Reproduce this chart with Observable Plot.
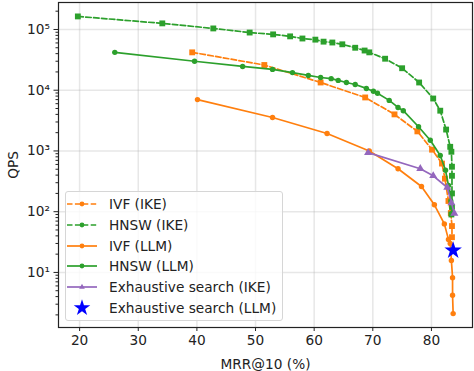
<!DOCTYPE html>
<html><head><meta charset="utf-8">
<script src="https://cdn.jsdelivr.net/npm/d3@7"></script>
<script src="https://cdn.jsdelivr.net/npm/@observablehq/plot@0.6"></script>
<style>
body{margin:0;background:#fff;font-family:"DejaVu Sans",sans-serif;}
#wrap{position:relative;width:474px;height:371px;}
#legend{position:absolute;left:65px;top:191px;width:218px;height:130px;border:1px solid #d6d6d6;border-radius:3px;background:rgba(255,255,255,0.8);box-sizing:border-box;}
.row{position:absolute;left:0;height:20px;display:flex;align-items:center;font-size:13.7px;color:#222;white-space:nowrap;}
.row svg{margin-right:10px;}
</style></head><body><div id="wrap"></div>
<script>
// ---- data ----
const ivfIkeX = [39.2, 51.5, 61.1, 68.7, 73.7, 77.6, 80.1, 81.8, 82.3, 82.9, 83.3, 83.5, 83.5];
const ivfIkeQ = [42000, 26000, 13400, 7600, 4000, 2100, 1050, 620, 350, 150, 95, 58, 38];

const hnswIkeX = [19.7, 34.1, 42.8, 49.0, 53.0, 55.9, 58.0, 60.2, 61.6, 63.1, 64.8, 67.0, 68.6, 69.4, 72.1, 75.0, 77.9, 80.3, 81.5, 82.5, 83.2, 83.4, 83.5, 83.5, 83.5, 83.5, 83.4];
const hnswIkeQ = [164000, 126000, 104000, 89000, 83000, 77000, 71000, 68000, 63000, 61000, 57000, 50000, 45000, 42000, 33000, 23000, 13400, 7300, 4600, 2250, 1170, 970, 550, 390, 200, 120, 90];

const ivfLlmX = [40.1, 52.9, 62.2, 69.4, 74.3, 78.3, 80.5, 82.2, 82.9, 83.2, 83.4, 83.6, 83.6, 83.7];
const ivfLlmQ = [7000, 3550, 1940, 1000, 510, 260, 130, 63, 35, 30, 15.7, 8.2, 4.2, 2.1];

const hnswLlmX = [26.0, 39.6, 47.8, 52.9, 56.3, 59.0, 61.1, 62.9, 64.1, 65.5, 67.0, 68.9, 70.1, 70.8, 72.8, 74.3, 75.2, 77.8, 79.8, 81.5, 82.4, 82.9, 83.3, 83.6];
const hnswLlmQ = [42000, 30000, 24600, 22000, 19500, 17500, 16200, 15500, 14500, 13400, 12400, 10700, 9600, 8900, 6800, 5200, 4600, 2500, 1500, 840, 480, 270, 150, 95];

const exhIkeX = [69.2, 78.1, 80.3, 82.7, 83.4, 83.9];
const exhIkeQ = [940, 510, 390, 250, 140, 94];

const exhLlmX = [83.7];
const exhLlmQ = [23];

const seriesNames = ["IVF (IKE)", "HNSW (IKE)", "IVF (LLM)", "HNSW (LLM)", "Exhaustive search (IKE)", "Exhaustive search (LLM)"];
const xTicks = [20, 30, 40, 50, 60, 70, 80];
const yTicks = [10, 100, 1000, 10000, 100000];
const yTickLabels = ["10¹", "10²", "10³", "10⁴", "10⁵"];

// ---- build ----
const ORANGE = "#ff7f0e", GREEN = "#2ca02c", PURPLE = "#9467bd", BLUE = "#0000ff";
const zip = (xs, ys) => xs.map((x, i) => ({x, y: ys[i]}));
const ivfIke = zip(ivfIkeX, ivfIkeQ), hnswIke = zip(hnswIkeX, hnswIkeQ);
const ivfLlm = zip(ivfLlmX, ivfLlmQ), hnswLlm = zip(hnswLlmX, hnswLlmQ);
const exhIke = zip(exhIkeX, exhIkeQ), exhLlm = zip(exhLlmX, exhLlmQ);

const minor = [];
for (let e = 0; e <= 5; e++) for (let m = 2; m <= 9; m++) { const v = m * 10 ** e; if (v > 1.24 && v < 2.78e5) minor.push(v); }

const dash = "5.5,2.4";
const chart = Plot.plot({
  width: 474, height: 371,
  marginLeft: 58, marginRight: 2, marginTop: 2, marginBottom: 44,
  style: {fontFamily: "DejaVu Sans, sans-serif", fontSize: "13.7px", color: "#222", background: "#fff"},
  x: {domain: [16.4, 87.0]},
  y: {type: "log", domain: [1.24, 2.78e5]},
  marks: [
    Plot.gridX(xTicks, {stroke: "#b0b0b0", strokeOpacity: 0.3, strokeWidth: 1.5}),
    Plot.gridY(yTicks, {stroke: "#b0b0b0", strokeOpacity: 0.3, strokeWidth: 1.5}),
    Plot.axisX({ticks: xTicks, tickSize: 4, tickPadding: 4, label: "MRR@10 (%)", labelAnchor: "center", labelOffset: 41, labelArrow: "none"}),
    Plot.axisY({ticks: yTicks, tickSize: 4.5, tickPadding: 4, tickFormat: d => yTickLabels[yTicks.indexOf(d)], label: "QPS", labelAnchor: "center", labelOffset: 50, labelArrow: "none"}),
    Plot.axisY({ticks: minor, tickSize: 2.5, tickFormat: () => "", label: null}),
    Plot.line(ivfIke, {x: "x", y: "y", stroke: ORANGE, strokeWidth: 1.7, strokeDasharray: dash}),
    Plot.dot(ivfIke, {x: "x", y: "y", symbol: "square", r: 3.3, fill: ORANGE}),
    Plot.line(hnswIke, {x: "x", y: "y", stroke: GREEN, strokeWidth: 1.7, strokeDasharray: dash}),
    Plot.dot(hnswIke, {x: "x", y: "y", symbol: "square", r: 3.3, fill: GREEN}),
    Plot.line(ivfLlm, {x: "x", y: "y", stroke: ORANGE, strokeWidth: 1.7}),
    Plot.dot(ivfLlm, {x: "x", y: "y", r: 2.7, fill: ORANGE}),
    Plot.line(hnswLlm, {x: "x", y: "y", stroke: GREEN, strokeWidth: 1.7}),
    Plot.dot(hnswLlm, {x: "x", y: "y", r: 2.7, fill: GREEN}),
    Plot.line(exhIke, {x: "x", y: "y", stroke: PURPLE, strokeWidth: 1.7}),
    Plot.dot(exhIke, {x: "x", y: "y", symbol: "triangle", r: 3, fill: PURPLE}),
    Plot.dot(exhLlm, {x: "x", y: "y", symbol: "star", r: 5.5, fill: BLUE}),
    Plot.frame({stroke: "#222", strokeWidth: 1.2})
  ]
});
const wrap = document.getElementById("wrap");
wrap.appendChild(chart);

// ---- legend ----
const legend = document.createElement("div");
legend.id = "legend";
wrap.appendChild(legend);
const swatches = [
  {color: ORANGE, dash: true, sym: d3.symbolCircle, size: 18},
  {color: GREEN, dash: true, sym: d3.symbolCircle, size: 18},
  {color: ORANGE, dash: false, sym: d3.symbolCircle, size: 18},
  {color: GREEN, dash: false, sym: d3.symbolCircle, size: 18},
  {color: PURPLE, dash: false, sym: d3.symbolTriangle, size: 14},
  {color: BLUE, none: true, sym: d3.symbolStar, size: 85}
];
seriesNames.forEach((name, i) => {
  const s = swatches[i];
  const row = document.createElement("div");
  row.className = "row";
  row.style.top = (2 + i * 20.8) + "px";
  const svg = d3.create("svg").attr("width", 33).attr("height", 20);
  if (!s.none) {
    svg.append("line").attr("x1", 1).attr("x2", 31).attr("y1", 10).attr("y2", 10)
      .attr("stroke", s.color).attr("stroke-width", 1.7).attr("stroke-dasharray", s.dash ? "5.5,2.4" : null);
  }
  svg.append("path").attr("d", d3.symbol(s.sym, s.size)()).attr("transform", "translate(16,10)").attr("fill", s.color);
  row.appendChild(svg.node());
  const t = document.createElement("span");
  t.textContent = name;
  row.appendChild(t);
  legend.appendChild(row);
});
</script>
</body></html>
